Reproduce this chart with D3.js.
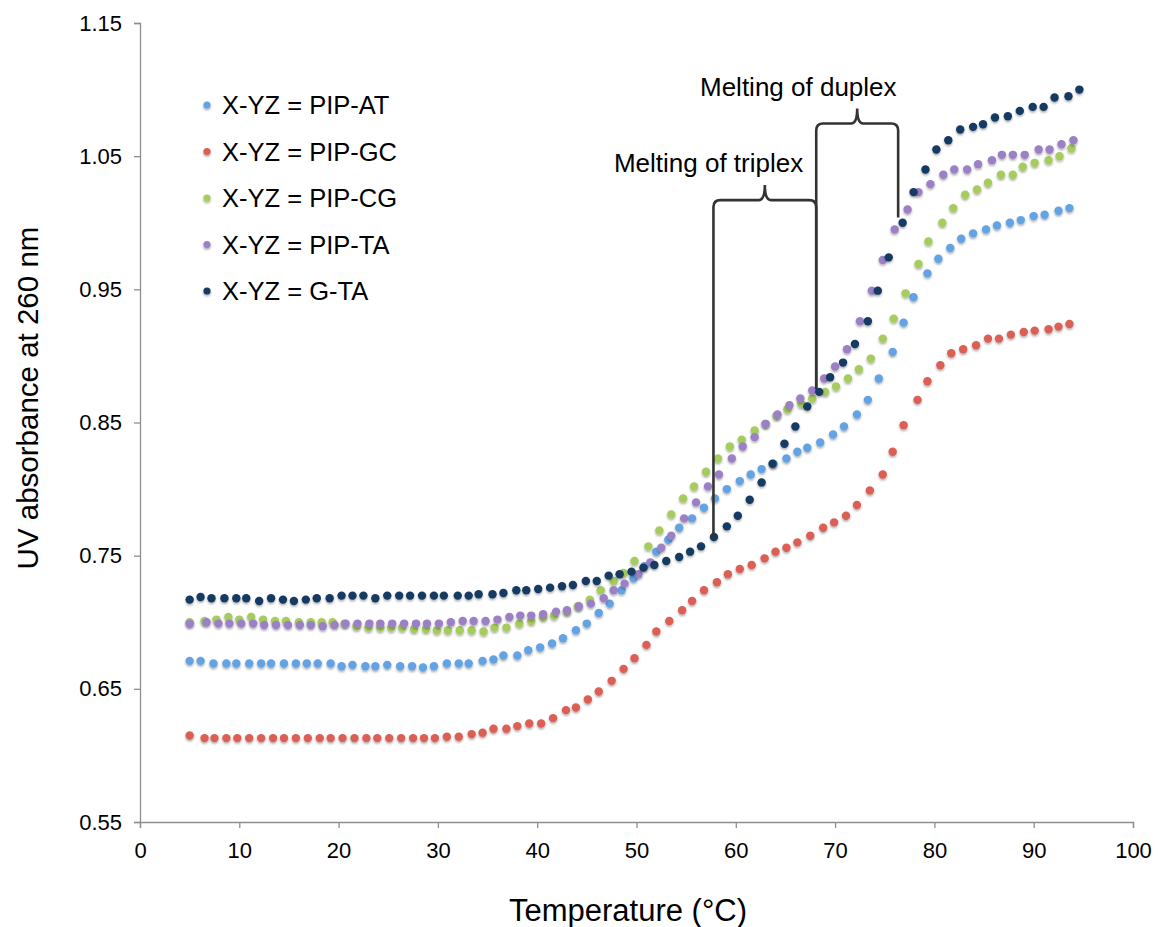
<!DOCTYPE html>
<html><head><meta charset="utf-8">
<script src="https://cdn.jsdelivr.net/npm/d3@7"></script>
<style>
html,body{margin:0;padding:0;background:#fff;}
text{font-family:"Liberation Sans", Arial, Helvetica, sans-serif;fill:#000;}
</style></head><body>
<svg id="chart" width="1160" height="927"></svg>
<script>
// ---------- data (temperature in °C, UV absorbance at 260 nm) ----------
const tempPIPAT = [5.0,6.1,7.4,8.7,9.7,11.0,12.2,13.2,14.5,15.7,16.8,17.9,19.2,20.3,21.4,22.7,23.7,24.9,26.2,27.4,28.5,29.6,30.9,32.1,33.1,34.5,35.6,36.6,38.0,39.1,40.3,41.5,42.6,43.9,45.0,46.2,47.3,48.5,49.7,50.8,52.0,53.2,54.3,55.6,56.8,57.9,59.1,60.4,61.5,62.6,63.8,65.1,66.2,67.2,68.5,69.8,70.9,72.2,73.3,74.4,75.8,76.9,77.9,79.3,80.4,81.6,82.7,83.9,85.2,86.3,87.6,88.7,90.0,91.1,92.5,93.6];
const absPIPAT  = [.671,.671,.669,.669,.669,.669,.669,.669,.669,.669,.669,.669,.669,.667,.668,.667,.667,.668,.667,.667,.666,.667,.669,.669,.669,.671,.672,.675,.675,.679,.681,.684,.688,.694,.699,.707,.714,.724,.733,.742,.753,.762,.771,.778,.786,.793,.800,.806,.811,.815,.819,.823,.828,.831,.835,.841,.847,.856,.867,.883,.903,.925,.944,.962,.973,.981,.988,.992,.995,.998,1.000,1.002,1.005,1.006,1.009,1.011];

const tempPIPGC = [5.0,6.5,7.5,8.7,9.8,11.0,12.2,13.4,14.5,15.7,16.9,18.1,19.2,20.4,21.6,22.8,23.9,25.1,26.3,27.5,28.6,29.7,30.9,32.1,33.4,34.5,35.6,36.9,38.0,39.2,40.4,41.6,42.9,43.9,45.1,46.2,47.5,48.7,49.8,51.0,52.0,53.3,54.6,55.6,56.8,58.1,59.2,60.4,61.6,62.9,64.0,65.1,66.2,67.5,68.8,69.9,71.1,72.2,73.5,74.8,75.8,76.9,78.3,79.3,80.6,81.7,82.9,84.2,85.4,86.5,87.7,89.0,90.1,91.5,92.5,93.6];
const absPIPGC  = [.615,.613,.613,.613,.613,.613,.613,.613,.613,.613,.613,.613,.613,.613,.613,.613,.613,.613,.613,.613,.613,.613,.614,.614,.616,.617,.620,.620,.622,.624,.624,.628,.634,.636,.642,.648,.656,.665,.673,.683,.693,.701,.709,.716,.724,.730,.736,.740,.743,.748,.753,.756,.760,.765,.771,.775,.780,.788,.799,.811,.828,.848,.867,.881,.893,.902,.905,.908,.913,.913,.916,.918,.919,.920,.922,.924];

const tempPIPCG = [5.0,6.5,7.7,8.9,10.0,11.2,12.4,13.6,14.7,16.0,17.2,18.3,19.4,20.6,21.8,23.0,24.2,25.3,26.4,27.6,28.8,29.9,31.0,32.2,33.4,34.6,35.7,36.9,38.2,39.4,40.6,41.7,43.0,44.1,45.3,46.4,47.7,48.7,49.8,51.2,52.3,53.5,54.7,55.8,57.0,58.2,59.4,60.6,61.9,63.0,64.1,65.2,66.6,67.7,69.0,70.1,71.3,72.4,73.6,74.8,75.9,77.1,78.4,79.4,80.8,81.9,83.1,84.3,85.4,86.7,87.9,88.9,90.1,91.5,92.6,93.8];
const absPIPCG  = [.700,.701,.702,.704,.702,.704,.702,.701,.701,.700,.700,.700,.700,.699,.697,.696,.696,.696,.696,.695,.695,.694,.694,.694,.694,.693,.696,.696,.699,.701,.704,.705,.708,.712,.717,.724,.731,.737,.746,.757,.769,.781,.793,.802,.813,.823,.832,.837,.844,.849,.855,.860,.864,.868,.873,.877,.883,.890,.898,.913,.928,.947,.969,.986,1.000,1.011,1.021,1.025,1.030,1.036,1.036,1.042,1.045,1.047,1.050,1.056];

const tempPIPTA = [5.0,6.7,7.9,9.0,10.2,11.4,12.5,13.7,14.9,16.1,17.2,18.4,19.6,20.7,21.9,23.1,24.2,25.4,26.6,27.8,28.9,30.1,31.3,32.5,33.6,34.8,36.0,37.2,38.3,39.4,40.6,41.9,43.0,44.2,45.4,46.7,47.7,48.8,50.2,51.4,52.5,53.5,54.8,56.0,57.2,58.3,59.6,60.7,61.9,63.0,64.2,65.4,66.5,67.7,68.9,70.0,71.2,72.5,73.7,74.8,76.0,77.3,78.4,79.6,80.9,82.0,83.3,84.4,85.8,86.8,87.9,89.1,90.5,91.6,92.8,94.0];
const absPIPTA  = [.699,.700,.699,.699,.699,.699,.698,.698,.698,.698,.698,.697,.698,.699,.699,.699,.699,.699,.699,.699,.699,.699,.700,.701,.701,.701,.702,.704,.705,.705,.706,.708,.709,.712,.714,.718,.724,.729,.736,.745,.756,.765,.778,.790,.802,.811,.823,.832,.839,.849,.856,.863,.868,.874,.883,.892,.905,.926,.949,.972,.995,1.010,1.023,1.029,1.036,1.040,1.040,1.044,1.047,1.051,1.051,1.051,1.055,1.055,1.059,1.062];

const tempGTA = [5.0,6.1,7.2,8.5,9.7,10.7,12.0,13.2,14.4,15.5,16.7,17.8,19.1,20.3,21.4,22.5,23.7,24.9,26.1,27.2,28.4,29.6,30.6,32.0,33.1,34.1,35.5,36.6,37.9,38.9,40.1,41.3,42.5,43.6,44.9,46.0,47.2,48.3,49.5,50.7,51.8,53.0,54.3,55.4,56.5,57.8,59.1,60.2,61.4,62.6,63.7,64.9,66.0,67.2,68.4,69.5,70.8,72.0,73.3,74.3,75.4,76.8,77.9,79.1,80.2,81.4,82.6,83.9,84.9,86.1,87.4,88.6,89.9,91.0,92.1,93.5,94.6];
const absGTA  = [.717,.719,.718,.718,.718,.718,.716,.718,.717,.716,.717,.718,.718,.720,.720,.720,.718,.720,.720,.720,.720,.720,.720,.720,.720,.721,.721,.722,.724,.724,.725,.726,.727,.728,.731,.731,.735,.736,.738,.741,.743,.746,.749,.753,.757,.764,.772,.780,.792,.805,.819,.834,.847,.862,.873,.884,.895,.909,.926,.949,.974,1.000,1.023,1.040,1.055,1.062,1.070,1.072,1.074,1.079,1.080,1.084,1.087,1.087,1.094,1.095,1.100];

const seriesNames  = ["X-YZ = PIP-AT","X-YZ = PIP-GC","X-YZ = PIP-CG","X-YZ = PIP-TA","X-YZ = G-TA"];
const seriesTemps  = [tempPIPAT,tempPIPGC,tempPIPCG,tempPIPTA,tempGTA];
const seriesAbs    = [absPIPAT,absPIPGC,absPIPCG,absPIPTA,absGTA];
const seriesColors = ["#63a3e4","#dc5e54","#a5cc5d","#9c80c6","#173a62"];

const xTickValues = [0,10,20,30,40,50,60,70,80,90,100];
const yTickValues = [0.55,0.65,0.75,0.85,0.95,1.05,1.15];

const xTitle = "Temperature (°C)";
const yTitle = "UV absorbance at 260 nm";

// annotation brackets in data units: [x left, x right, top level, left end, right end]
const triplexLabel = "Melting of triplex";
const triplexBracket = [57.75, 68.1, 1.017, 0.764, 0.875];
const duplexLabel = "Melting of duplex";
const duplexBracket = [68.1, 76.35, 1.0745, 0.875, 1.004];

// ---------- drawing ----------
const svg = d3.select("#chart");
const x = d3.scaleLinear().domain([0,100]).range([140,1133]);
const y = d3.scaleLinear().domain([0.55,1.15]).range([822,23]);

const defs = svg.append("defs");
const f = defs.append("filter").attr("id","shadow").attr("x","-50%").attr("y","-50%").attr("width","200%").attr("height","200%");
f.append("feDropShadow").attr("dx",0).attr("dy",1.6).attr("stdDeviation",1.2).attr("flood-color","#000").attr("flood-opacity",0.35);

// axes
const axisColor = "#8e8e8e";
const gx = svg.append("g").attr("transform",`translate(0,${y(0.55)})`)
  .call(d3.axisBottom(x).tickValues(xTickValues).tickSize(6).tickPadding(14).tickFormat(d3.format("d")));
const gy = svg.append("g").attr("transform",`translate(${x(0)},0)`)
  .call(d3.axisLeft(y).tickValues(yTickValues).tickSize(6).tickPadding(12).tickFormat(d3.format(".2f")));
[gx,gy].forEach(g=>{
  g.select(".domain").attr("stroke",axisColor).attr("stroke-width",1.3);
  g.selectAll(".tick line").attr("stroke",axisColor).attr("stroke-width",1.3);
  g.selectAll(".tick text").attr("fill","#000").style("font-size","22px").style("font-family",'"Liberation Sans", Arial, sans-serif');
});

svg.append("text").attr("x",628).attr("y",921).attr("text-anchor","middle")
  .style("font-size","31px").text(xTitle);
svg.append("text").attr("transform",`translate(38,398) rotate(-90)`).attr("text-anchor","middle")
  .style("font-size","29.5px").text(yTitle);

// series points
seriesNames.forEach((name,i)=>{
  const pts = seriesTemps[i].map((t,k)=>({t, v:seriesAbs[i][k]}));
  svg.append("g").attr("filter","url(#shadow)")
    .selectAll("circle").data(pts).enter().append("circle")
    .attr("cx",d=>x(d.t)).attr("cy",d=>y(d.v)).attr("r",4.2)
    .attr("fill",seriesColors[i]);
});

// legend
const lg = svg.append("g");
seriesNames.forEach((name,i)=>{
  const yy = 105 + i*46.5;
  lg.append("circle").attr("cx",207).attr("cy",yy).attr("r",3.6).attr("fill",seriesColors[i]).attr("filter","url(#shadow)");
  lg.append("text").attr("x",222).attr("y",yy).attr("dy","0.36em").style("font-size","25.5px").text(name);
});

// brackets
function bracketPath(b){
  const xl=x(b[0]), xr=x(b[1]), yt=y(b[2]), yl=y(b[3]), yr=y(b[4]);
  const xm=(xl+xr)/2, r=7, tip=15;
  return `M${xl},${yl} L${xl},${yt+r} Q${xl},${yt} ${xl+r},${yt} L${xm-6},${yt} Q${xm},${yt} ${xm},${yt-tip}`+
         ` Q${xm},${yt} ${xm+6},${yt} L${xr-r},${yt} Q${xr},${yt} ${xr},${yt+r} L${xr},${yr}`;
}
const ann = svg.append("g");
[triplexBracket,duplexBracket].forEach(b=>{
  ann.append("path").attr("d",bracketPath(b)).attr("fill","none").attr("stroke","#333").attr("stroke-width",2.6);
});
ann.append("text").attr("x",x(triplexBracket[1])-13).attr("y",y(triplexBracket[2])-37).attr("dy","0.36em")
  .attr("text-anchor","end").style("font-size","26px").text(triplexLabel);
ann.append("text").attr("x",700).attr("y",y(duplexBracket[2])-37).attr("dy","0.36em")
  .attr("text-anchor","start").style("font-size","26px").text(duplexLabel);
</script>
</body></html>
